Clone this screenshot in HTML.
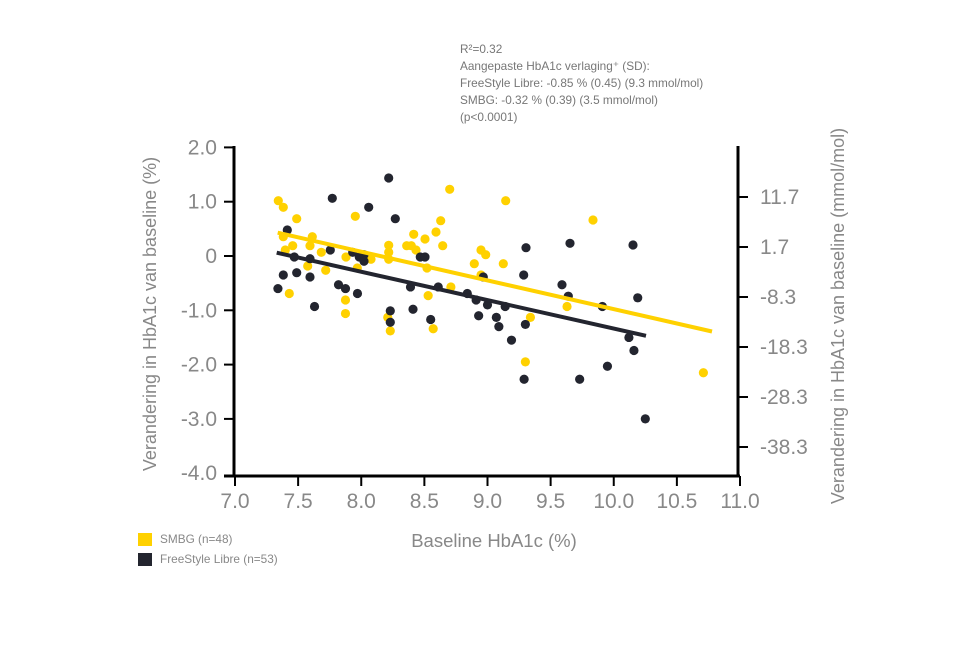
<!DOCTYPE html>
<html><head><meta charset="utf-8"><style>
html,body{margin:0;padding:0;background:#fff;}
svg{display:block;font-family:"Liberation Sans",sans-serif;}
</style></head><body>
<svg id="s" width="954" height="649" viewBox="0 0 954 649" xmlns="http://www.w3.org/2000/svg">
<g font-size="11.8" fill="#777">
<text x="460" y="53">R²=0.32</text>
<text x="460" y="70">Aangepaste HbA1c verlaging⁺ (SD):</text>
<text x="460" y="87">FreeStyle Libre: -0.85 % (0.45) (9.3 mmol/mol)</text>
<text x="460" y="104">SMBG: -0.32 % (0.39) (3.5 mmol/mol)</text>
<text x="460" y="121">(p&lt;0.0001)</text>
</g>
<g stroke="#000" stroke-width="3" fill="none">
<line x1="234" y1="146" x2="234" y2="477"/>
<line x1="224" y1="476" x2="740" y2="476"/>
<line x1="738" y1="146" x2="738" y2="477"/>
</g>
<g id="ticks" stroke="#000" stroke-width="2"></g>
<g id="labels" font-size="21" fill="#888"></g>
<g id="pts"></g>
<line x1="277.7" y1="232.7" x2="712" y2="331.5" stroke="#FFD100" stroke-width="4"/>
<line x1="276.7" y1="252.7" x2="646" y2="335.8" stroke="#23252F" stroke-width="4"/>
<text x="494" y="547" font-size="18.5" fill="#888" text-anchor="middle">Baseline HbA1c (%)</text>
<text transform="translate(156,314) rotate(-90)" font-size="18" fill="#888" text-anchor="middle">Verandering in HbA1c van baseline (%)</text>
<text transform="translate(844,316) rotate(-90)" font-size="18" fill="#888" text-anchor="middle">Verandering in HbA1c van baseline (mmol/mol)</text>
<rect x="138" y="533" width="14" height="13" fill="#FFD100"/>
<rect x="138" y="553" width="14" height="13" fill="#23252F"/>
<text x="160" y="543" font-size="11.8" fill="#888">SMBG (n=48)</text>
<text x="160" y="563" font-size="11.8" fill="#888">FreeStyle Libre (n=53)</text>
</svg>
<script>
var NS="http://www.w3.org/2000/svg";
function el(p,t,a,txt){var e=document.createElementNS(NS,t);for(var k in a)e.setAttribute(k,a[k]);if(txt!=null)e.textContent=txt;document.getElementById(p).appendChild(e);}
function X(v){return 235+(v-7)*126.25;}
function Y(v){return 256-v*54.3;}
var yl=["2.0","1.0","0","-1.0","-2.0","-3.0","-4.0"];
for(var i=0;i<7;i++){var v=2-i,y=Y(v);if(i<6)el("ticks","line",{x1:224,y1:y,x2:234,y2:y});
el("labels","text",{x:217,y:y+7,"text-anchor":"end"},yl[i]);}
for(var i=0;i<=8;i++){var v=7+i*0.5,x=X(v);el("ticks","line",{x1:x,y1:476,x2:x,y2:486});
el("labels","text",{x:x,y:508,"text-anchor":"middle"},v.toFixed(1));}
var rl=["11.7","1.7","-8.3","-18.3","-28.3","-38.3"];
for(var i=0;i<6;i++){var y=197+i*50;el("ticks","line",{x1:738,y1:y,x2:748,y2:y});
el("labels","text",{x:760,y:y+7},rl[i]);}
var Yc="#FFD100",Dc="#23252F";
var ypx=[[278.3,200.7],[283.3,207.3],[296.7,218.7],[283.3,236.7],[292.7,245.7],[285.3,250],[310,245.7],[312.3,236.7],[307.7,266],[321.3,252.3],[325.7,270.3],[346,257],[355.3,216.3],[357.3,268],[371,259.3],[388.7,245.3],[388.7,252.3],[388.7,259.3],[406.7,245.7],[411.3,245.7],[413.7,234.3],[416,250],[425,239],[427,268],[436,232],[440.7,220.7],[442.7,245.7],[449.7,189.3],[474.3,263.7],[481,250],[485.7,254.7],[481,275],[503.3,263.7],[505.7,200.7],[593,220]];
var yd=[[7.43,-0.69],[7.875,-0.81],[7.875,-1.06],[8.21,-1.13],[8.23,-1.38],[8.53,-0.73],[8.57,-1.34],[8.71,-0.57],[9.30,-1.95],[9.34,-1.13],[9.63,-0.93],[10.71,-2.15]];
var dpx=[[287.3,230],[294.3,257],[283.3,275],[296.7,272.7],[310,258.7],[310,277],[330.3,250],[332.3,198.3],[352.7,252.3],[359.3,257],[364,254.7],[364,261.3],[368.7,207.3],[388.7,178],[395.3,218.7],[420.3,257],[425,257],[483.3,277],[526,247.7],[523.7,275],[570,243.3],[633,245]];
var dd=[[7.34,-0.60],[7.63,-0.93],[7.82,-0.53],[7.875,-0.60],[7.97,-0.69],[8.23,-1.01],[8.23,-1.22],[8.39,-0.57],[8.41,-0.98],[8.55,-1.17],[8.61,-0.57],[8.84,-0.69],[8.91,-0.81],[8.93,-1.10],[9.0,-0.90],[9.07,-1.13],[9.09,-1.30],[9.14,-0.93],[9.19,-1.55],[9.29,-2.27],[9.30,-1.26],[9.59,-0.53],[9.64,-0.74],[9.73,-2.27],[9.91,-0.93],[9.95,-2.03],[10.12,-1.50],[10.16,-1.74],[10.19,-0.77],[10.25,-3.0]];
ypx.forEach(function(p){el("pts","circle",{cx:p[0],cy:p[1],r:4.6,fill:Yc});});
yd.forEach(function(p){el("pts","circle",{cx:X(p[0]),cy:Y(p[1]),r:4.6,fill:Yc});});
dpx.forEach(function(p){el("pts","circle",{cx:p[0],cy:p[1],r:4.6,fill:Dc});});
dd.forEach(function(p){el("pts","circle",{cx:X(p[0]),cy:Y(p[1]),r:4.6,fill:Dc});});
</script>
</body></html>
